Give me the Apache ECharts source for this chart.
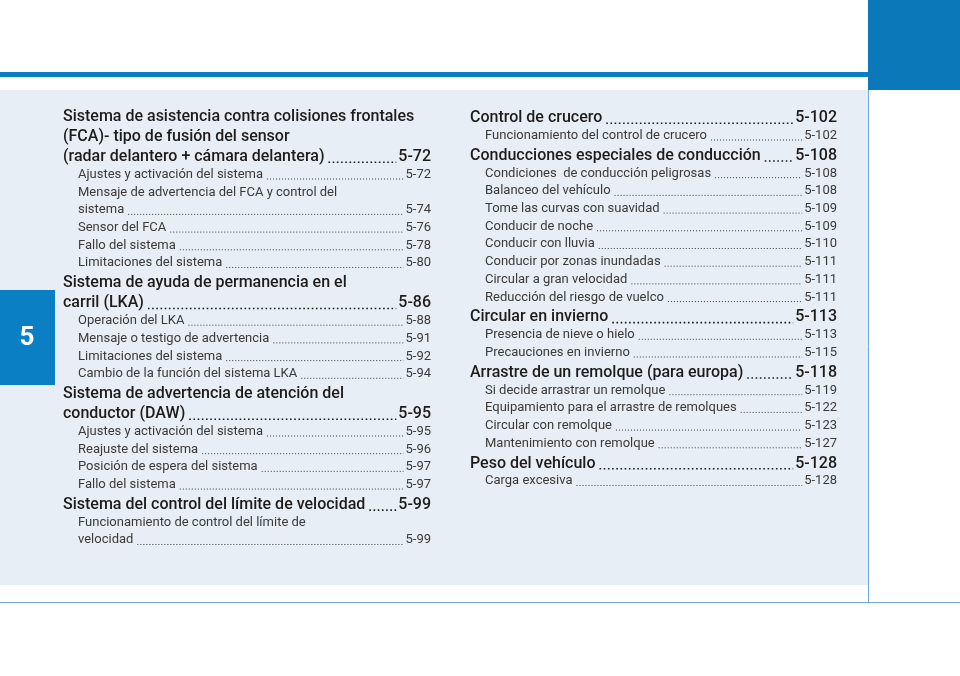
<!DOCTYPE html>
<html><head><meta charset="utf-8">
<script src="https://cdn.jsdelivr.net/npm/echarts@6/dist/echarts.min.js"></script>
<style>html,body{margin:0;padding:0;background:#fff}#main{width:960px;height:676px}</style>
</head><body><div id="main"></div>
<script>
// level 1 = heading, 2 = sub entry; page '' = continued line
var leftText = ['Sistema de asistencia contra colisiones frontales', '(FCA)- tipo de fusión del sensor', '(radar delantero + cámara delantera)',
  'Ajustes y activación del sistema', 'Mensaje de advertencia del FCA y control del', 'sistema', 'Sensor del FCA', 'Fallo del sistema', 'Limitaciones del sistema',
  'Sistema de ayuda de permanencia en el', 'carril (LKA)', 'Operación del LKA', 'Mensaje o testigo de advertencia', 'Limitaciones del sistema', 'Cambio de la función del sistema LKA',
  'Sistema de advertencia de atención del', 'conductor (DAW)', 'Ajustes y activación del sistema', 'Reajuste del sistema', 'Posición de espera del sistema', 'Fallo del sistema',
  'Sistema del control del límite de velocidad', 'Funcionamiento de control del límite de', 'velocidad'];
var leftPage = ['', '', '5-72', '5-72', '', '5-74', '5-76', '5-78', '5-80', '', '5-86', '5-88', '5-91', '5-92', '5-94', '', '5-95', '5-95', '5-96', '5-97', '5-97', '5-99', '', '5-99'];
var leftLevel = [1, 1, 1, 2, 2, 2, 2, 2, 2, 1, 1, 2, 2, 2, 2, 1, 1, 2, 2, 2, 2, 1, 2, 2];

var rightText = ['Control de crucero', 'Funcionamiento del control de crucero', 'Conducciones especiales de conducción',
  'Condiciones  de conducción peligrosas', 'Balanceo del vehículo', 'Tome las curvas con suavidad', 'Conducir de noche', 'Conducir con lluvia', 'Conducir por zonas inundadas', 'Circular a gran velocidad', 'Reducción del riesgo de vuelco',
  'Circular en invierno', 'Presencia de nieve o hielo', 'Precauciones en invierno',
  'Arrastre de un remolque (para europa)', 'Si decide arrastrar un remolque', 'Equipamiento para el arrastre de remolques', 'Circular con remolque', 'Mantenimiento con remolque',
  'Peso del vehículo', 'Carga excesiva'];
var rightPage = ['5-102', '5-102', '5-108', '5-108', '5-108', '5-109', '5-109', '5-110', '5-111', '5-111', '5-111', '5-113', '5-113', '5-115', '5-118', '5-119', '5-122', '5-123', '5-127', '5-128', '5-128'];
var rightLevel = [1, 2, 1, 2, 2, 2, 2, 2, 2, 2, 2, 1, 2, 2, 1, 2, 2, 2, 2, 1, 2];

var FONT = 'Roboto, "Noto Sans", sans-serif';
var ctx = document.createElement('canvas').getContext('2d');
function textW(t, size, weight) { ctx.font = weight + ' ' + size + 'px ' + FONT; return ctx.measureText(t).width; }

var elements = [
  { type: 'rect', shape: { x: 0, y: 90, width: 868, height: 495 }, style: { fill: '#e8eef5' } },
  { type: 'rect', shape: { x: 0, y: 72, width: 868, height: 5 }, style: { fill: '#0b7fc4' } },
  { type: 'rect', shape: { x: 868, y: 0, width: 92, height: 90 }, style: { fill: '#0b78b9' } },
  { type: 'line', shape: { x1: 868.5, y1: 90, x2: 868.5, y2: 603 }, style: { stroke: '#6fa8d6', lineWidth: 1 } },
  { type: 'line', shape: { x1: 0, y1: 602.5, x2: 960, y2: 602.5 }, style: { stroke: '#6fa8d6', lineWidth: 1 } },
  { type: 'rect', shape: { x: 0, y: 290, width: 55, height: 95 }, style: { fill: '#0b7fc4' } },
  { type: 'text', x: 27, y: 338, style: { text: '5', fill: '#fff', font: 'bold 26px ' + FONT, textAlign: 'center', textVerticalAlign: 'middle' } }
];

function column(texts, pages, levels, x0, x1, y0) {
  var y = y0;
  for (var i = 0; i < texts.length; i++) {
    var h = levels[i] === 1;
    if (i > 0) y += h ? 20 : 17.7;
    var size = h ? 16 : 13, weight = h ? '500' : 'normal';
    var x = h ? x0 : x0 + 15;
    var col = h ? '#1c1c1c' : '#3a3a3a';
    elements.push({ type: 'text', x: x, y: y, style: { text: texts[i], fill: col, font: weight + ' ' + size + 'px ' + FONT, textVerticalAlign: 'middle' } });
    if (pages[i]) {
      var pw = textW(pages[i], size, weight);
      elements.push({ type: 'text', x: x1, y: y, style: { text: pages[i], fill: col, font: weight + ' ' + size + 'px ' + FONT, textAlign: 'right', textVerticalAlign: 'middle' } });
      var sx = x + textW(texts[i], size, weight) + 4, ex = x1 - pw - 2;
      elements.push({ type: 'line', shape: { x1: sx, y1: y + size * 0.33, x2: ex, y2: y + size * 0.33 },
        style: { stroke: col, lineWidth: h ? 1.6 : 1, lineDash: h ? [1.6, 2.6] : [1, 2] } });
    }
  }
}
column(leftText, leftPage, leftLevel, 63, 431, 117);
column(rightText, rightPage, rightLevel, 470, 837, 118);

var myChart = echarts.init(document.getElementById('main'));
myChart.setOption({ animation: false, graphic: { elements: elements } });
</script></body></html>
